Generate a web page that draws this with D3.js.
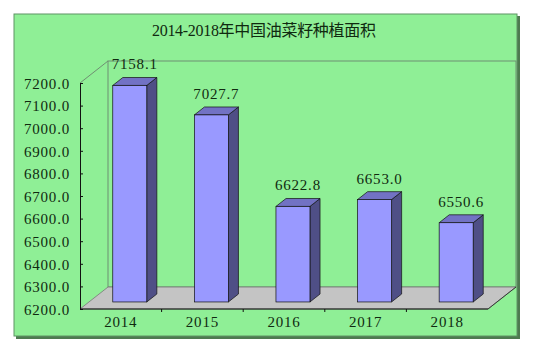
<!DOCTYPE html>
<html>
<head>
<meta charset="utf-8">
<script src="https://cdn.jsdelivr.net/npm/d3@7"></script>
<style>
body { margin:0; background:#fff; }
svg text { font-family:"Liberation Serif","Noto Sans CJK SC",serif; fill:#102a10; }
</style>
</head>
<body>
<svg id="chart" width="534" height="354"></svg>
<script>
var years = ["2014","2015","2016","2017","2018"];
var areas = [7158.1, 7027.7, 6622.8, 6653.0, 6550.6];
var yTicks = [6200,6300,6400,6500,6600,6700,6800,6900,7000,7100,7200];
var title = "2014-2018年中国油菜籽种植面积";

var svg = d3.select("#chart");
var DX = 28, DY = -22;          // full depth offset of the 3d box
var d0 = 0.32, d1 = 0.68;       // bar depth span

var x = d3.scaleBand().domain(years).range([80, 488]);
var y = d3.scaleLinear().domain([6200, 7200]).range([309, 83]);

// frame + shadow
svg.append("rect").attr("x",16).attr("y",16).attr("width",504).attr("height",323).attr("fill","#4e7a50");
svg.append("rect").attr("x",14).attr("y",14).attr("width",503).attr("height",322)
	.attr("fill","#8fef96").attr("stroke","#5f9464").attr("stroke-width",1);

svg.append("text").attr("x",264).attr("y",30).attr("text-anchor","middle")
	.attr("dominant-baseline","central").style("font-size","16px")
	.attr("textLength",224).attr("lengthAdjust","spacing")
	.text(title);

var x0 = x.range()[0], x1 = x.range()[1];
var yTop = y(7200), yBot = y(6200);

// back wall
svg.append("rect").attr("x",x0+DX).attr("y",yTop+DY).attr("width",x1-x0).attr("height",yBot-yTop)
	.attr("fill","none").attr("stroke","#6f8f72").attr("stroke-width",1);
// left wall top edge
svg.append("line").attr("x1",x0).attr("y1",yTop).attr("x2",x0+DX).attr("y2",yTop+DY)
	.attr("stroke","#6f8f72");

// floor
var floorPts = [[x0,yBot],[x1,yBot],[x1+DX,yBot+DY],[x0+DX,yBot+DY]];
svg.append("polygon").attr("points",floorPts.map(p=>p.join(",")).join(" "))
	.attr("fill","#c4c4c4").attr("stroke","#777").attr("stroke-width",0.8);
svg.append("line").attr("x1",x1).attr("y1",yBot).attr("x2",x1+DX).attr("y2",yBot+DY)
	.attr("stroke","#222").attr("stroke-width",0.8);

// bars
var bw = x.bandwidth()/2.4;
var bars = svg.append("g").selectAll("g").data(years).enter().append("g");

bars.each(function(d,i) {
	var g = d3.select(this);
	var v = areas[i];
	var fl = x(d) + (x.bandwidth()-bw)/2 + DX*d0;
	var fr = fl + bw;
	var ft = y(v) + DY*d0;
	var fb = yBot + DY*d0;
	var ox = DX*(d1-d0), oy = DY*(d1-d0);
	var poly = pts => pts.map(p=>p.join(",")).join(" ");
	g.append("polygon").attr("points",poly([[fr,ft],[fr+ox,ft+oy],[fr+ox,fb+oy],[fr,fb]]))
		.attr("fill","#4f4f86").attr("stroke","#111").attr("stroke-width",0.7);
	g.append("polygon").attr("points",poly([[fl,ft],[fl+ox,ft+oy],[fr+ox,ft+oy],[fr,ft]]))
		.attr("fill","#7272c4").attr("stroke","#111").attr("stroke-width",0.7);
	g.append("rect").attr("x",fl).attr("y",ft).attr("width",bw).attr("height",fb-ft)
		.attr("fill","#9999ff").attr("stroke","#111").attr("stroke-width",0.7);
	g.append("text").attr("x",(fl+fr)/2+5).attr("y",ft-21)
		.attr("text-anchor","middle").attr("dominant-baseline","central")
		.style("font-size","15px").style("letter-spacing","0.8px")
		.text(d3.format(".1f")(v));
});

// y axis
var yAxis = d3.axisLeft(y).tickValues(yTicks).tickFormat(d3.format(".1f"))
	.tickSizeInner(-3).tickSizeOuter(0).tickPadding(10);
var ya = svg.append("g").attr("transform","translate("+x0+",0)").call(yAxis);
ya.select(".domain").attr("stroke","#111");
ya.selectAll(".tick line").attr("stroke","#111");
ya.selectAll("text").style("font-size","15px").style("letter-spacing","0.8px")
	.style("font-family",null).attr("fill",null).attr("dy","0.35em");

// x axis
var xa = svg.append("g").attr("transform","translate(0,"+yBot+")");
xa.append("line").attr("x1",x0).attr("x2",x1).attr("stroke","#111");
xa.selectAll("line.tk").data(years.slice(1)).enter().append("line").attr("class","tk")
	.attr("x1",d=>x(d)).attr("x2",d=>x(d)).attr("y1",0).attr("y2",3).attr("stroke","#111");
xa.selectAll("text").data(years).enter().append("text")
	.attr("x",d=>x(d)+x.bandwidth()/2).attr("y",13).attr("text-anchor","middle")
	.attr("dominant-baseline","central").style("font-size","15px").style("letter-spacing","0.8px")
	.text(d=>d);
</script>
</body>
</html>
